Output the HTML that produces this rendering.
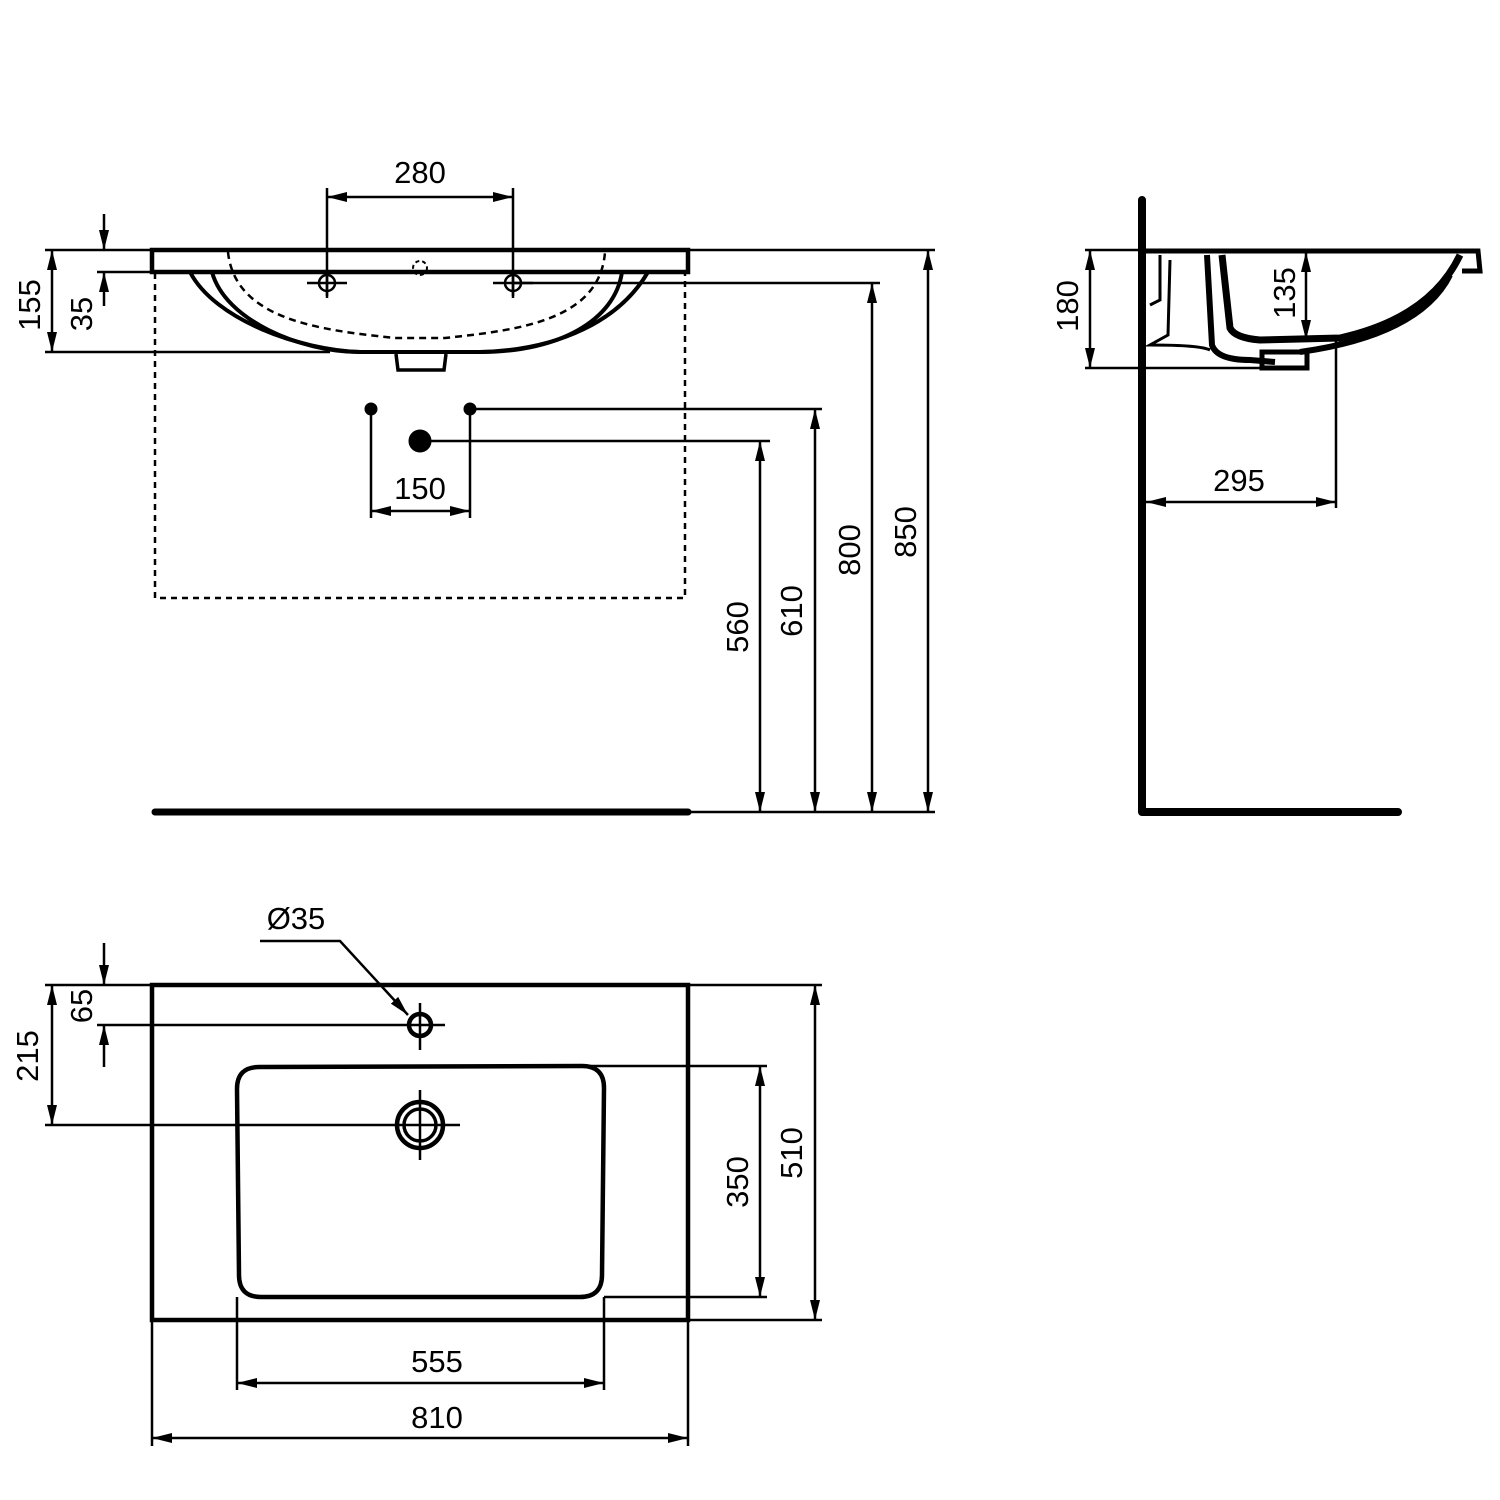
<!DOCTYPE html>
<html><head><meta charset="utf-8"><style>html,body{margin:0;padding:0;background:#fff}svg{display:block}</style></head>
<body>
<svg width="1500" height="1500" viewBox="0 0 1500 1500" xmlns="http://www.w3.org/2000/svg" font-family="Liberation Sans, sans-serif" font-size="31" fill="none" stroke="#000">
<defs>
<marker id="a" viewBox="0 0 20 10" refX="20" refY="5" markerWidth="20" markerHeight="10" markerUnits="userSpaceOnUse" orient="auto-start-reverse"><path d="M0,0 L20,5 L0,10 Z" fill="#000" stroke="none"/></marker>
</defs>
<g stroke-width="2.5">
<line x1="45" y1="250" x2="152" y2="250"/>
<line x1="45" y1="352" x2="330" y2="352"/>
<line x1="97" y1="272" x2="152" y2="272"/>
<line x1="688" y1="250" x2="935" y2="250"/>
<line x1="513" y1="283" x2="880" y2="283"/>
<line x1="470" y1="409" x2="822" y2="409"/>
<line x1="420" y1="441" x2="770" y2="441"/>
<line x1="688" y1="812" x2="935" y2="812"/>
<line x1="327" y1="188" x2="327" y2="296"/>
<line x1="513" y1="188" x2="513" y2="296"/>
<line x1="371" y1="409" x2="371" y2="518"/>
<line x1="470" y1="409" x2="470" y2="518"/>
<line x1="327" y1="197" x2="513" y2="197" marker-start="url(#a)" marker-end="url(#a)"/>
<line x1="371" y1="511" x2="470" y2="511" marker-start="url(#a)" marker-end="url(#a)"/>
<line x1="52" y1="250" x2="52" y2="352" marker-start="url(#a)" marker-end="url(#a)"/>
<line x1="104" y1="214" x2="104" y2="250" marker-end="url(#a)"/>
<line x1="104" y1="306" x2="104" y2="272" marker-end="url(#a)"/>
<line x1="928" y1="250" x2="928" y2="812" marker-start="url(#a)" marker-end="url(#a)"/>
<line x1="872" y1="283" x2="872" y2="812" marker-start="url(#a)" marker-end="url(#a)"/>
<line x1="815" y1="409" x2="815" y2="812" marker-start="url(#a)" marker-end="url(#a)"/>
<line x1="760" y1="441" x2="760" y2="812" marker-start="url(#a)" marker-end="url(#a)"/>
<rect x="155" y="272" width="530" height="326" stroke-dasharray="6,5"/>
</g>
<rect x="152" y="250" width="536" height="22" stroke-width="4.5"/>
<path d="M190,272 C215,320 300,350 360,352 L480,352 C560,350 620,320 648,272" stroke-width="4"/>
<path d="M212,272 C225,320 300,352 360,352 M480,352 C560,352 615,320 622,272" stroke-width="4"/>
<path d="M228,252 C235,320 320,330 395,338 L445,338 C520,330 600,320 605,252" stroke-width="2.5" stroke-dasharray="7,5"/>
<path d="M396,354 L398,370 L444,370 L446,354" stroke-width="3.5"/>
<circle cx="420" cy="268" r="7" stroke-width="2" stroke-dasharray="4,3"/>
<g stroke-width="2.5"><circle cx="327" cy="283" r="8"/><line x1="307" y1="283" x2="347" y2="283"/><line x1="327" y1="272" x2="327" y2="298"/>
<circle cx="513" cy="283" r="8"/><line x1="493" y1="283" x2="533" y2="283"/><line x1="513" y1="272" x2="513" y2="298"/></g>
<circle cx="371" cy="409" r="6" fill="#000"/><circle cx="470" cy="409" r="6" fill="#000"/><circle cx="420" cy="441" r="11" fill="#000"/>
<line x1="155" y1="812" x2="688" y2="812" stroke-width="7" stroke-linecap="round"/>
<g fill="#000" stroke="none">
<text x="420" y="183" text-anchor="middle">280</text>
<text x="420" y="499" text-anchor="middle">150</text>
<text transform="translate(40,305) rotate(-90)" text-anchor="middle">155</text>
<text transform="translate(92,314) rotate(-90)" text-anchor="middle">35</text>
<text transform="translate(916,532) rotate(-90)" text-anchor="middle">850</text>
<text transform="translate(860,550) rotate(-90)" text-anchor="middle">800</text>
<text transform="translate(802,611) rotate(-90)" text-anchor="middle">610</text>
<text transform="translate(748,627) rotate(-90)" text-anchor="middle">560</text>
</g>

<g stroke-width="2.5">
<line x1="1085" y1="250" x2="1142" y2="250"/>
<line x1="1085" y1="368" x2="1272" y2="368"/>
<line x1="1090" y1="250" x2="1090" y2="368" marker-start="url(#a)" marker-end="url(#a)"/>
<line x1="1306" y1="252" x2="1306" y2="340" marker-start="url(#a)" marker-end="url(#a)"/>
<line x1="1336" y1="340" x2="1336" y2="508"/>
<line x1="1146" y1="502" x2="1336" y2="502" marker-start="url(#a)" marker-end="url(#a)"/>
</g>
<path d="M1142,200 L1142,812 L1398,812" stroke-width="8" stroke-linecap="round" stroke-linejoin="round"/>
<path d="M1142,251 L1478,251 L1480,271 L1462,271" stroke-width="5"/>
<path d="M1222,255 L1230,328 Q1235,338 1260,340 L1340,338 Q1430,318 1460,255" stroke-width="7"/>
<path d="M1207,255 L1212,345 Q1217,360 1250,360 L1275,362 M1300,352 Q1420,335 1450,275" stroke-width="6"/>
<path d="M1160,255 L1160,300 L1150,305 M1170,260 L1168,335 L1150,345 Q1200,345 1210,350" stroke-width="3"/>
<rect x="1262" y="352" width="45" height="16" stroke-width="5"/>
<g fill="#000" stroke="none">
<text transform="translate(1078,306) rotate(-90)" text-anchor="middle">180</text>
<text transform="translate(1295,293) rotate(-90)" text-anchor="middle">135</text>
<text x="1239" y="491" text-anchor="middle">295</text>
</g>

<g stroke-width="2.5">
<line x1="45" y1="985" x2="152" y2="985"/>
<line x1="97" y1="1025" x2="445" y2="1025"/>
<line x1="45" y1="1125" x2="460" y2="1125"/>
<line x1="688" y1="985" x2="822" y2="985"/>
<line x1="688" y1="1320" x2="822" y2="1320"/>
<line x1="420" y1="1066" x2="767" y2="1066"/>
<line x1="604" y1="1297" x2="767" y2="1297"/>
<line x1="237" y1="1297" x2="237" y2="1390"/>
<line x1="604" y1="1297" x2="604" y2="1390"/>
<line x1="152" y1="1320" x2="152" y2="1446"/>
<line x1="688" y1="1320" x2="688" y2="1446"/>
<line x1="104" y1="943" x2="104" y2="985" marker-end="url(#a)"/>
<line x1="104" y1="1067" x2="104" y2="1025" marker-end="url(#a)"/>
<line x1="52" y1="985" x2="52" y2="1125" marker-start="url(#a)" marker-end="url(#a)"/>
<line x1="760" y1="1066" x2="760" y2="1297" marker-start="url(#a)" marker-end="url(#a)"/>
<line x1="815" y1="985" x2="815" y2="1320" marker-start="url(#a)" marker-end="url(#a)"/>
<line x1="237" y1="1383" x2="604" y2="1383" marker-start="url(#a)" marker-end="url(#a)"/>
<line x1="152" y1="1438" x2="688" y2="1438" marker-start="url(#a)" marker-end="url(#a)"/>
<polyline points="260,941 340,941 408,1015" marker-end="url(#a)"/>
<line x1="420" y1="1003" x2="420" y2="1050"/>
<line x1="420" y1="1090" x2="420" y2="1160"/>
</g>
<rect x="152" y="985" width="536" height="335" stroke-width="4.5"/>
<path d="M259,1067 L582,1066 Q604,1066 604,1088 L602,1275 Q602,1297 580,1297 L261,1297 Q239,1297 239,1275 L237,1089 Q237,1067 259,1067 Z" stroke-width="4.5"/>
<circle cx="420" cy="1025" r="11" stroke-width="4.5"/>
<circle cx="420" cy="1125" r="23" stroke-width="4.5"/>
<circle cx="420" cy="1125" r="16" stroke-width="3.5"/>
<g fill="#000" stroke="none">
<text x="296" y="929" text-anchor="middle">Ø35</text>
<text transform="translate(92,1006) rotate(-90)" text-anchor="middle">65</text>
<text transform="translate(38,1056) rotate(-90)" text-anchor="middle">215</text>
<text transform="translate(748,1182) rotate(-90)" text-anchor="middle">350</text>
<text transform="translate(802,1153) rotate(-90)" text-anchor="middle">510</text>
<text x="437" y="1372" text-anchor="middle">555</text>
<text x="437" y="1428" text-anchor="middle">810</text>
</g>
</svg>
</body></html>
